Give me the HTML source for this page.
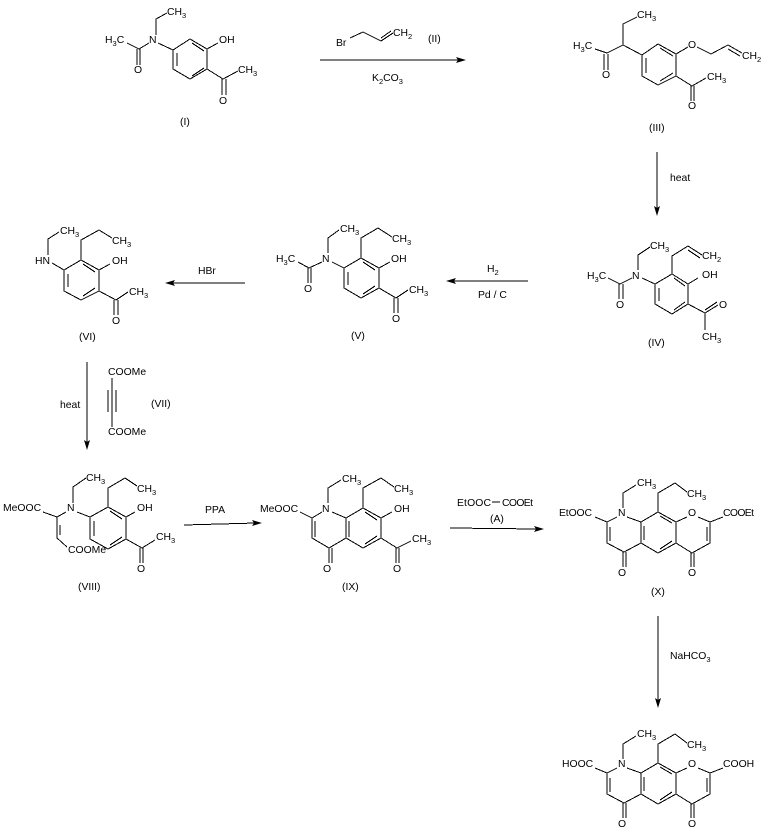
<!DOCTYPE html>
<html><head><meta charset="utf-8"><style>
html,body{margin:0;padding:0;background:#fff}
svg{display:block}
text{font-family:"Liberation Sans",Arial,sans-serif;font-size:10.4px;fill:#000}
tspan.s{font-size:7.5px}
path{fill:none;stroke:#000;stroke-width:1;shape-rendering:crispEdges}
polygon{fill:#000;stroke:none}
</style></head><body>
<svg width="764" height="835" viewBox="0 0 764 835" xmlns="http://www.w3.org/2000/svg">

<!-- I -->
<path d="M167 13L156 19V35M127 43L139 49L149 43M137 49V65M140 49V65M158 43L173 50L190 39L207 49V69L190 79L173 69V50M177 53V66M192 43L204 51M192 76L204 68M207 49L218 43M207 69L223 79L238 71M222 79V95M226 79V95"/>
<text x="167" y="15">CH<tspan class="s" dy="3">3</tspan></text>
<text x="105" y="43">H<tspan class="s" dy="3">3</tspan><tspan dy="-3">C</tspan></text>
<text x="149" y="43">N</text>
<text x="134" y="73">O</text>
<text x="219" y="43">OH</text>
<text x="238" y="73">CH<tspan class="s" dy="3">3</tspan></text>
<text x="219" y="104">O</text>
<text x="180" y="125">(I)</text>

<!-- II reagent and arrow -->
<path d="M350 38L363 32L381 41L393 33M381 38L391 31"/>
<text x="336" y="46">Br</text>
<text x="393" y="36">CH<tspan class="s" dy="3">2</tspan></text>
<text x="428" y="42">(II)</text>
<path d="M320 60H460"/>
<polygon points="466,60 456,57 458,60 456,63"/>
<text x="372" y="81">K<tspan class="s" dy="3">2</tspan><tspan dy="-3">CO</tspan><tspan class="s" dy="3">3</tspan></text>

<!-- III -->
<path d="M637 17L623 24V45L607 53L595 49M604 54V70M608 54V70M623 45L642 55L658 44L676 54V76L658 85L642 76V55M646 58V73M660 48L673 56M660 81L673 73M676 54L688 47M697 47L711 54L728 45L742 53M728 49L740 56M676 76L692 86L706 78M691 86V101M694 86V101"/>
<text x="637" y="18">CH<tspan class="s" dy="3">3</tspan></text>
<text x="573" y="49">H<tspan class="s" dy="3">3</tspan><tspan dy="-3">C</tspan></text>
<text x="602" y="78">O</text>
<text x="688" y="48">O</text>
<text x="742" y="59">CH<tspan class="s" dy="3">2</tspan></text>
<text x="707" y="80">CH<tspan class="s" dy="3">3</tspan></text>
<text x="688" y="109">O</text>
<text x="649" y="131">(III)</text>

<!-- heat arrow -->
<path d="M657 152V210"/>
<polygon points="657,216 654,206 657,208 660,206"/>
<text x="670" y="181">heat</text>

<!-- IV -->
<path d="M650 247L638 255V270M608 278L620 284L632 278M619 284V299M623 284V299M642 278L655 284L672 274L688 284V304L672 314L655 304V284M659 288V301M674 278L685 286M674 310L685 302M672 274V256L688 246L702 255M688 250L700 258M688 284L698 278M688 304L705 313L718 305M705 310L717 302M705 313V330"/>
<text x="650" y="249">CH<tspan class="s" dy="3">3</tspan></text>
<text x="587" y="279">H<tspan class="s" dy="3">3</tspan><tspan dy="-3">C</tspan></text>
<text x="632" y="279">N</text>
<text x="616" y="308">O</text>
<text x="702" y="259">CH<tspan class="s" dy="3">2</tspan></text>
<text x="702" y="278">OH</text>
<text x="719" y="308">O</text>
<text x="702" y="340">CH<tspan class="s" dy="3">3</tspan></text>
<text x="648" y="346">(IV)</text>

<!-- H2 arrow -->
<text x="487" y="272">H<tspan class="s" dy="3">2</tspan></text>
<path d="M528 281H452"/>
<polygon points="446,281 456,278 454,281 456,284"/>
<text x="478" y="298">Pd / C</text>

<!-- V -->
<path d="M339 230L328 238V253M298 262L309 268L322 262M308 268V283M311 268V283M332 262L344 268L361 258L379 268V288L361 298L344 288V268M348 272V285M363 262L375 270M363 294L375 286M361 258V238L378 228L392 237M379 268L390 262M379 288L396 298L408 290M394 298V313M398 298V313"/>
<text x="340" y="232">CH<tspan class="s" dy="3">3</tspan></text>
<text x="276" y="262">H<tspan class="s" dy="3">3</tspan><tspan dy="-3">C</tspan></text>
<text x="322" y="262">N</text>
<text x="304" y="292">O</text>
<text x="392" y="242">CH<tspan class="s" dy="3">3</tspan></text>
<text x="391" y="262">OH</text>
<text x="409" y="293">CH<tspan class="s" dy="3">3</tspan></text>
<text x="392" y="322">O</text>
<text x="351" y="339">(V)</text>

<!-- HBr arrow -->
<text x="198" y="274">HBr</text>
<path d="M245 283H171"/>
<polygon points="165,283 175,280 173,283 175,286"/>

<!-- VI -->
<path d="M59 232L48 239V255M52 263L64 270L81 260L99 270V291L81 300L64 291V270M68 274V287M83 264L95 272M83 296L95 288M81 260V240L99 230L112 238M99 270L110 264M99 291L116 300L128 292M114 300V315M118 300V315"/>
<text x="60" y="234">CH<tspan class="s" dy="3">3</tspan></text>
<text x="35" y="264">HN</text>
<text x="112" y="244">CH<tspan class="s" dy="3">3</tspan></text>
<text x="112" y="264">OH</text>
<text x="129" y="295">CH<tspan class="s" dy="3">3</tspan></text>
<text x="112" y="324">O</text>
<text x="79" y="340">(VI)</text>

<!-- heat arrow and VII -->
<path d="M87 362V444"/>
<polygon points="87,450 84,440 87,442 90,440"/>
<text x="60" y="408">heat</text>
<path d="M112 378V427M108 390V412M116 390V412"/>
<text x="108" y="375">COOMe</text>
<text x="108" y="435">COOMe</text>
<text x="151" y="407">(VII)</text>

<!-- VIII -->
<path d="M86 478L73 487V503M43 512L57 517L66 512M57 517V538L67 547M60 525V535M77 512L90 517L108 507L126 517V539L108 549L90 539V517M94 521V536M110 511L122 519M110 545L122 537M108 507V488L125 478L137 486M126 517L135 512M126 539L142 548L155 540M140 548V563M143 548V563"/>
<text x="86" y="481">CH<tspan class="s" dy="3">3</tspan></text>
<text x="3" y="511">MeOOC</text>
<text x="67" y="511">N</text>
<text x="137" y="492">CH<tspan class="s" dy="3">3</tspan></text>
<text x="137" y="511">OH</text>
<text x="68" y="553">COOMe</text>
<text x="156" y="540">CH<tspan class="s" dy="3">3</tspan></text>
<text x="137" y="572">O</text>
<text x="78" y="590">(VIII)</text>

<!-- PPA arrow -->
<text x="205" y="513">PPA</text>
<path d="M184 525L256 523"/>
<polygon points="262,523 252,520 254,523 252,526"/>

<!-- IX -->
<path d="M341 480L328 488V503M300 512L312 518L322 512M312 518V538L329 548L346 538V518M315 521V537M349 521V537M332 512L346 518L363 508L381 518V538L363 548L346 538M365 512L377 520M365 544L377 536M329 548V563M332 548V563M363 508V488L381 478L394 487M381 518L392 512M381 538L397 548L411 541M396 548V563M399 548V563"/>
<text x="342" y="482">CH<tspan class="s" dy="3">3</tspan></text>
<text x="260" y="512">MeOOC</text>
<text x="322" y="512">N</text>
<text x="394" y="492">CH<tspan class="s" dy="3">3</tspan></text>
<text x="394" y="512">OH</text>
<text x="412" y="542">CH<tspan class="s" dy="3">3</tspan></text>
<text x="323" y="572">O</text>
<text x="393" y="572">O</text>
<text x="342" y="590">(IX)</text>

<!-- A arrow -->
<text x="457" y="506" textLength="34">EtOOC</text>
<path d="M492 502H500"/>
<text x="502" y="506" textLength="31">COOEt</text>
<text x="490" y="522">(A)</text>
<path d="M450 528L538 529"/>
<polygon points="544,529 534,526 536,529 534,532"/>

<!-- X -->
<path d="M636 485L623 493V508M595 517L607 522L617 517M607 522V543L624 552L641 543V522M610 527V541M644 526V540M627 517L641 522L658 512L676 522V543L658 553L641 543M660 516L672 523M660 549L672 541M623 552V567M626 552V567M658 512V493L675 483L687 492M676 522L687 517M698 517L710 522V543L692 553L676 543M707 527V541M691 553V567M694 553V567M710 522L723 517"/>
<text x="637" y="486">CH<tspan class="s" dy="3">3</tspan></text>
<text x="559" y="516" textLength="33">EtOOC</text>
<text x="618" y="516">N</text>
<text x="687" y="497">CH<tspan class="s" dy="3">3</tspan></text>
<text x="688" y="516">O</text>
<text x="723" y="516" textLength="31">COOEt</text>
<text x="618" y="576">O</text>
<text x="688" y="576">O</text>
<text x="651" y="595">(X)</text>

<!-- NaHCO3 arrow -->
<path d="M658 616V702"/>
<polygon points="658,708 655,698 658,700 661,698"/>
<text x="670" y="659">NaHCO<tspan class="s" dy="3">3</tspan></text>

<!-- Final -->
<path d="M636 736L623 744V759M595 768L607 773L617 768M607 773V794L624 803L641 794V773M610 778V792M644 777V791M627 768L641 773L658 763L676 773V794L658 804L641 794M660 767L672 774M660 800L672 792M623 803V818M626 803V818M658 763V744L675 734L687 743M676 773L687 768M698 768L710 773V794L692 804L676 794M707 778V792M691 804V818M694 804V818M710 773L723 768"/>
<text x="637" y="737">CH<tspan class="s" dy="3">3</tspan></text>
<text x="562" y="767">HOOC</text>
<text x="618" y="767">N</text>
<text x="687" y="748">CH<tspan class="s" dy="3">3</tspan></text>
<text x="688" y="767">O</text>
<text x="723" y="767">COOH</text>
<text x="618" y="827">O</text>
<text x="688" y="827">O</text>
</svg>
</body></html>
